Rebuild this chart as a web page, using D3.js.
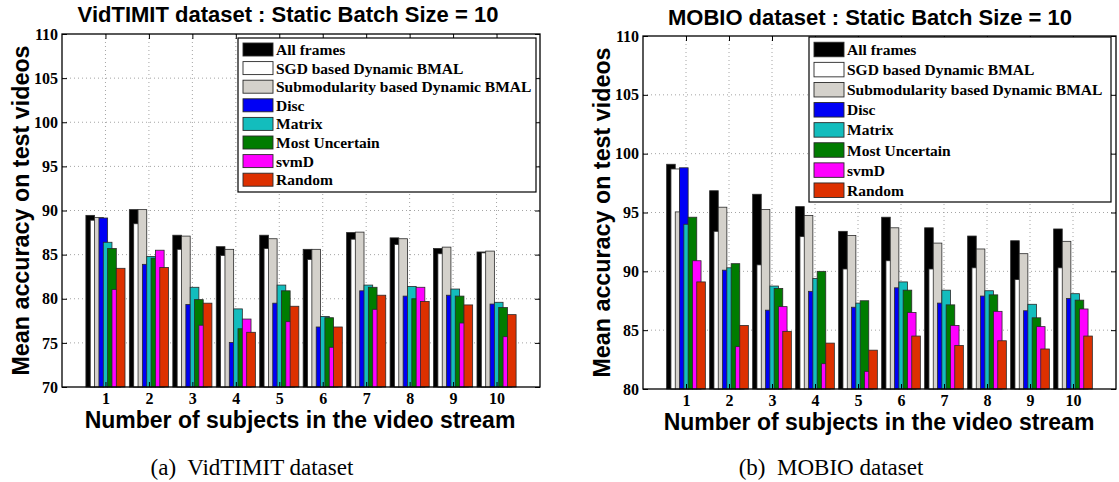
<!DOCTYPE html>
<html>
<head>
<meta charset="utf-8">
<script src="https://cdnjs.cloudflare.com/ajax/libs/d3/7.8.5/d3.min.js"></script>
<style>
  html, body { margin: 0; padding: 0; background: #ffffff; }
  svg { display: block; }
</style>
</head>
<body>
<svg id="chart" width="1119" height="482"></svg>
<script>
// Number of subjects in the video stream (x categories)
const categories = [1, 2, 3, 4, 5, 6, 7, 8, 9, 10];

// Method names, in drawing order
const seriesNames = [
  "All frames",
  "SGD based Dynamic BMAL",
  "Submodularity based Dynamic BMAL",
  "Disc",
  "Matrix",
  "Most Uncertain",
  "svmD",
  "Random"
];
const seriesColors = ["#000000", "#ffffff", "#d4d1cb", "#0000f5", "#13bdbd", "#007c00", "#ff00ff", "#dd3000"];

// VidTIMIT: mean accuracy on test videos
const vidAll     = [89.45, 90.1, 87.2, 85.9, 87.2, 85.6, 87.5, 86.9, 85.7, 85.3];
const vidSGD     = [88.9, 88.5, 85.6, 84.9, 85.7, 84.45, 86.75, 86.15, 85.1, 85.2];
const vidSub     = [89.2, 90.1, 87.1, 85.6, 86.8, 85.6, 87.55, 86.8, 85.85, 85.4];
const vidDisc    = [89.15, 83.9, 79.35, 75.05, 79.5, 76.8, 80.9, 80.3, 80.4, 79.4];
const vidMatrix  = [86.4, 84.8, 81.3, 78.85, 81.55, 78.0, 81.55, 81.4, 81.1, 79.6];
const vidMU      = [85.7, 84.6, 79.9, 76.6, 80.9, 77.85, 81.3, 80.0, 80.3, 79.0];
const vidSvmD    = [81.05, 85.5, 77.0, 77.7, 77.4, 74.5, 78.8, 81.3, 77.25, 75.7];
const vidRandom  = [83.45, 83.55, 79.5, 76.2, 79.15, 76.8, 80.4, 79.7, 79.3, 78.2];

// MOBIO: mean accuracy on test videos
const mobAll     = [99.1, 96.85, 96.55, 95.5, 93.4, 94.6, 93.7, 93.0, 92.6, 93.6];
const mobSGD     = [98.7, 93.4, 90.55, 92.95, 90.2, 90.9, 90.2, 90.3, 89.3, 90.3];
const mobSub     = [95.05, 95.45, 95.25, 94.75, 93.05, 93.7, 92.4, 91.9, 91.5, 92.55];
const mobDisc    = [98.8, 90.1, 86.7, 88.3, 86.95, 88.6, 87.3, 87.9, 86.65, 87.7];
const mobMatrix  = [94.0, 90.3, 88.75, 89.4, 87.3, 89.1, 88.4, 88.35, 87.2, 88.1];
const mobMU      = [94.6, 90.65, 88.55, 90.0, 87.5, 88.4, 87.15, 88.0, 86.05, 87.55];
const mobSvmD    = [90.9, 83.6, 87.0, 82.15, 81.5, 86.5, 85.4, 86.6, 85.3, 86.8];
const mobRandom  = [89.1, 85.4, 84.9, 83.9, 83.3, 84.5, 83.7, 84.1, 83.4, 84.5];

// Axis tick labels
const vidYTicks = [70, 75, 80, 85, 90, 95, 100, 105, 110];
const mobYTicks = [80, 85, 90, 95, 100, 105, 110];

const titleFont = "'Liberation Sans', Arial, sans-serif";
const serifFont = "'Liberation Serif', 'Times New Roman', serif";

const svg = d3.select("#chart");
svg.append("rect").attr("width", 1119).attr("height", 482).attr("fill", "#ffffff");

function styleAxis(sel) {
  sel.attr("font-family", serifFont).attr("font-weight", "bold").attr("font-size", 16);
  sel.select(".domain").remove();
  sel.selectAll(".tick line").attr("stroke", "#000").attr("stroke-width", 1);
  sel.selectAll(".tick text").attr("fill", "#000");
}

function drawPanel(o) {
  const g = svg.append("g");
  const x = d3.scaleLinear().domain([0, 11]).range([o.left, o.right]);
  const y = d3.scaleLinear().domain([o.yTicks[0], o.yTicks[o.yTicks.length - 1]]).range([o.bottom, o.top]);

  // dotted grid
  const grid = g.append("g").attr("stroke", "#9a9a9a").attr("stroke-width", 0.9)
    .attr("stroke-dasharray", "1 3");
  grid.selectAll("line.gx").data(categories).join("line")
    .attr("x1", d => x(d)).attr("x2", d => x(d))
    .attr("y1", o.top).attr("y2", o.bottom);
  grid.selectAll("line.gy").data(o.yTicks.slice(1, -1)).join("line")
    .attr("x1", o.left).attr("x2", o.right)
    .attr("y1", d => y(d)).attr("y2", d => y(d));

  // grouped, overlapping bars: each bar spans two slot widths and is drawn over the previous one
  const slot = 0.1;
  const barsG = g.append("g");
  o.series.forEach((vals, si) => {
    barsG.append("g").selectAll("rect").data(categories).join("rect")
      .attr("x", (c) => x(c - 0.45 + si * slot))
      .attr("width", () => x(2 * slot) - x(0))
      .attr("y", (c, i) => y(vals[i]))
      .attr("height", (c, i) => y(o.yTicks[0]) - y(vals[i]))
      .attr("fill", seriesColors[si])
      .attr("stroke", "#2a2a2a")
      .attr("stroke-width", 0.8);
  });

  // axes with inward ticks on all four sides
  g.append("g").attr("transform", `translate(${o.left},0)`)
    .call(d3.axisLeft(y).tickValues(o.yTicks).tickSizeInner(-5).tickSizeOuter(0).tickPadding(4).tickFormat(d3.format("d")))
    .call(styleAxis);
  g.append("g").attr("transform", `translate(0,${o.bottom})`)
    .call(d3.axisBottom(x).tickValues(categories).tickSizeInner(-5).tickSizeOuter(0).tickPadding(6))
    .call(styleAxis);
  g.append("g").attr("transform", `translate(${o.right},0)`)
    .call(d3.axisRight(y).tickValues(o.yTicks).tickSizeInner(-5).tickSizeOuter(0).tickFormat(""))
    .call(styleAxis);
  g.append("g").attr("transform", `translate(0,${o.top})`)
    .call(d3.axisTop(x).tickValues(categories).tickSizeInner(-5).tickSizeOuter(0).tickFormat(""))
    .call(styleAxis);
  g.append("rect")
    .attr("x", o.left).attr("y", o.top)
    .attr("width", o.right - o.left).attr("height", o.bottom - o.top)
    .attr("fill", "none").attr("stroke", "#000").attr("stroke-width", 1.3);

  // legend
  const lg = o.legend;
  const leg = g.append("g");
  leg.append("rect")
    .attr("x", lg.x0).attr("y", lg.y0)
    .attr("width", lg.x1 - lg.x0).attr("height", lg.y1 - lg.y0)
    .attr("fill", "#ffffff").attr("stroke", "#000").attr("stroke-width", 1.2);
  const rows = leg.selectAll("g.row").data(seriesNames).join("g")
    .attr("transform", (d, i) => `translate(0,${lg.rowY0 + i * lg.rowStep})`);
  rows.append("rect")
    .attr("x", lg.swX).attr("y", -lg.swH / 2)
    .attr("width", lg.swW).attr("height", lg.swH)
    .attr("fill", (d, i) => seriesColors[i])
    .attr("stroke", "#2a2a2a").attr("stroke-width", 0.9);
  rows.append("text")
    .attr("x", lg.textX).attr("y", 5.5)
    .attr("font-family", serifFont).attr("font-weight", "bold").attr("font-size", 15.5)
    .attr("fill", "#000")
    .text(d => d);

  // titles
  g.append("text").attr("x", o.titleX).attr("y", o.titleY)
    .attr("text-anchor", "middle").attr("font-family", titleFont).attr("font-weight", "bold")
    .attr("font-size", 22).attr("fill", "#000").text(o.title);
  g.append("text").attr("x", o.xTitleX).attr("y", o.xTitleY)
    .attr("text-anchor", "middle").attr("font-family", titleFont).attr("font-weight", "bold")
    .attr("font-size", 23).attr("fill", "#000").text("Number of subjects in the video stream");
  g.append("text")
    .attr("transform", `translate(${o.yTitleX},${(o.top + o.bottom) / 2}) rotate(-90)`)
    .attr("text-anchor", "middle").attr("font-family", titleFont).attr("font-weight", "bold")
    .attr("font-size", 23.3).attr("fill", "#000").text("Mean accuracy on test videos");
  g.append("text").attr("x", o.captionX).attr("y", o.captionY)
    .attr("text-anchor", "middle").attr("font-family", serifFont)
    .attr("font-size", 23).attr("fill", "#000").attr("xml:space", "preserve").text(o.caption);
}

drawPanel({
  left: 62, right: 540, top: 34, bottom: 387,
  yTicks: vidYTicks,
  series: [vidAll, vidSGD, vidSub, vidDisc, vidMatrix, vidMU, vidSvmD, vidRandom],
  title: "VidTIMIT dataset : Static Batch Size = 10", titleX: 288, titleY: 22,
  xTitleX: 300, xTitleY: 428,
  yTitleX: 29,
  caption: "(a)  VidTIMIT dataset", captionX: 252, captionY: 475,
  legend: { x0: 238, y0: 38, x1: 536, y1: 192, swX: 243, swW: 30, swH: 13, rowY0: 49.5, rowStep: 18.6, textX: 276 }
});

drawPanel({
  left: 643, right: 1116, top: 36, bottom: 389,
  yTicks: mobYTicks,
  series: [mobAll, mobSGD, mobSub, mobDisc, mobMatrix, mobMU, mobSvmD, mobRandom],
  title: "MOBIO dataset : Static Batch Size = 10", titleX: 870, titleY: 25,
  xTitleX: 879, xTitleY: 430,
  yTitleX: 610,
  caption: "(b)  MOBIO dataset", captionX: 831, captionY: 475,
  legend: { x0: 809, y0: 37, x1: 1111, y1: 202, swX: 814, swW: 30, swH: 14.5, rowY0: 49.5, rowStep: 20.1, textX: 847 }
});
</script>
</body>
</html>
